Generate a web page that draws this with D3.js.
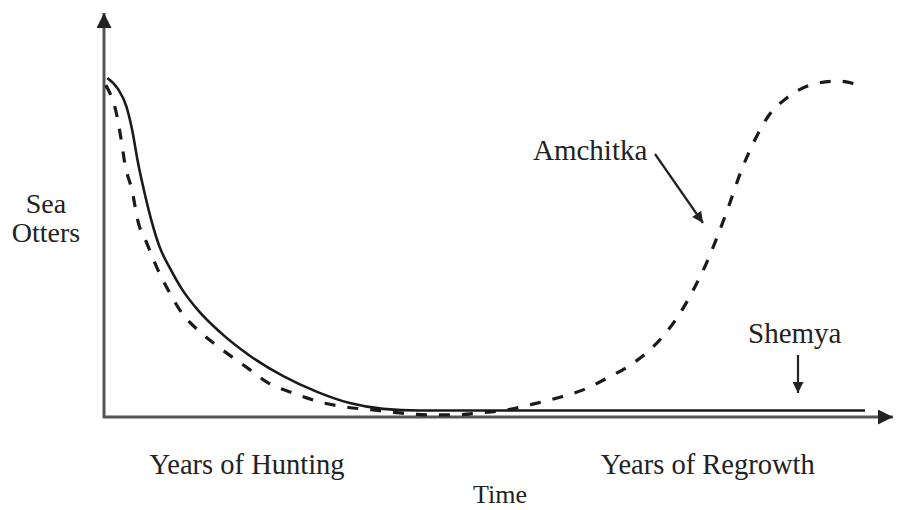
<!DOCTYPE html>
<html>
<head>
<meta charset="utf-8">
<script src="https://cdn.jsdelivr.net/npm/d3@7"></script>
<style>
  html, body { margin: 0; padding: 0; background: #fff; }
</style>
</head>
<body>
<div id="chart"></div>
<script>
// time runs 0..100 across the plot, otters 0..100 (relative)
const shemyaTime = [0.3, 1.7, 2.8, 3.6, 4.3, 5.3, 6.2, 7.2, 8.6, 10.1, 12.2, 15.1, 19.1, 23.4, 27.9, 32.2, 36.6, 41.4, 60, 80, 100];
const shemyaOtters = [100, 96.8, 91.7, 84.4, 75.5, 65.2, 57.2, 50.1, 43.7, 37.8, 31.6, 25.1, 18.0, 12.1, 7.4, 4.1, 2.4, 1.9, 1.9, 1.9, 1.9];

const amchitkaTime = [0.1, 1.6, 2.2, 2.6, 3.6, 4.3, 5.5, 6.8, 8.3, 10.1, 12.5, 15.1, 19.1, 21.3, 24.7, 28.3, 31.8, 35.3, 38.8, 42.4, 45.8, 49.3, 52.9, 56.3, 59.5, 62.9, 66.1, 69.1, 71.7, 73.9, 76.1, 77.6, 79.2, 80.5, 81.8, 83.9, 85.5, 87.2, 89.7, 92.8, 96.4, 99.6];
const amchitkaOtters = [97.9, 88.5, 80.8, 74.9, 66.4, 58.1, 51.3, 44.2, 37.5, 30.7, 25.1, 20.4, 13.9, 10.3, 7.1, 4.4, 2.9, 2.1, 1.2, 0.6, 0.6, 1.2, 2.1, 3.8, 5.6, 8.0, 11.5, 15.3, 19.8, 25.1, 32.2, 38.3, 45.7, 52.8, 60.5, 73.7, 81.7, 88.5, 94.1, 97.9, 99.1, 97.6];

const yLabel = ["Sea", "Otters"];
const phaseLabels = ["Years of Hunting", "Years of Regrowth"];
const phaseAt = [18.7, 79.3];
const xLabel = "Time";

const serif = "'Liberation Serif', 'DejaVu Serif', serif";

const width = 905, height = 510;
const svg = d3.select("#chart").append("svg")
    .attr("width", width)
    .attr("height", height);

const x = d3.scaleLinear().domain([0, 100]).range([105, 865]);
const y = d3.scaleLinear().domain([0, 100]).range([417, 78]);

// arrowheads
const defs = svg.append("defs");
defs.append("marker")
    .attr("id", "axisHead")
    .attr("viewBox", "0 0 10 10")
    .attr("refX", 10).attr("refY", 5)
    .attr("markerWidth", 6).attr("markerHeight", 5)
    .attr("markerUnits", "strokeWidth")
    .attr("orient", "auto")
    .append("path").attr("d", "M0,0L10,5L0,10Z").attr("fill", "#222");
defs.append("marker")
    .attr("id", "noteHead")
    .attr("viewBox", "0 0 10 10")
    .attr("refX", 10).attr("refY", 5)
    .attr("markerWidth", 7).attr("markerHeight", 5)
    .attr("markerUnits", "strokeWidth")
    .attr("orient", "auto")
    .append("path").attr("d", "M0,0L10,5L0,10Z").attr("fill", "#222");

// axes
svg.append("line")
    .attr("x1", x(0) - 1).attr("y1", y(0) + 1)
    .attr("x2", x(0) - 1).attr("y2", 13)
    .attr("stroke", "#555").attr("stroke-width", 3)
    .attr("marker-end", "url(#axisHead)");
svg.append("line")
    .attr("x1", x(0) - 2).attr("y1", y(0))
    .attr("x2", 893).attr("y2", y(0))
    .attr("stroke", "#555").attr("stroke-width", 3)
    .attr("marker-end", "url(#axisHead)");

const line = d3.line().curve(d3.curveMonotoneX);

svg.append("path")
    .datum(d3.zip(shemyaTime, shemyaOtters))
    .attr("d", line.x(d => x(d[0])).y(d => y(d[1])))
    .attr("fill", "none")
    .attr("stroke", "#1a1a1a")
    .attr("stroke-width", 2.6);

svg.append("path")
    .datum(d3.zip(amchitkaTime, amchitkaOtters))
    .attr("d", line.x(d => x(d[0])).y(d => y(d[1])))
    .attr("fill", "none")
    .attr("stroke", "#1a1a1a")
    .attr("stroke-width", 3.2)
    .attr("stroke-dasharray", "11,12");

// labels
const g = svg.append("g")
    .style("font-family", serif)
    .attr("fill", "#222");

g.append("text")
    .attr("x", 46).attr("y", 213)
    .attr("text-anchor", "middle")
    .attr("font-size", 28)
    .selectAll("tspan")
    .data(yLabel)
    .enter().append("tspan")
    .attr("x", 46)
    .attr("dy", (d, i) => i === 0 ? 0 : 29)
    .text(d => d);

g.selectAll(".phase")
    .data(phaseLabels)
    .enter().append("text")
    .attr("class", "phase")
    .attr("x", (d, i) => x(phaseAt[i]))
    .attr("y", 474)
    .attr("text-anchor", "middle")
    .attr("font-size", 28.5)
    .text(d => d);

g.append("text")
    .attr("x", 500).attr("y", 503)
    .attr("text-anchor", "middle")
    .attr("font-size", 26)
    .text(xLabel);

g.append("text")
    .attr("x", 533).attr("y", 160)
    .attr("font-size", 29)
    .text("Amchitka");
svg.append("line")
    .attr("x1", 655).attr("y1", 154)
    .attr("x2", 703).attr("y2", 223)
    .attr("stroke", "#222").attr("stroke-width", 2.2)
    .attr("marker-end", "url(#noteHead)");

g.append("text")
    .attr("x", 748).attr("y", 343)
    .attr("font-size", 29)
    .text("Shemya");
svg.append("line")
    .attr("x1", 798).attr("y1", 355)
    .attr("x2", 798).attr("y2", 393)
    .attr("stroke", "#222").attr("stroke-width", 2.2)
    .attr("marker-end", "url(#noteHead)");
</script>
</body>
</html>
